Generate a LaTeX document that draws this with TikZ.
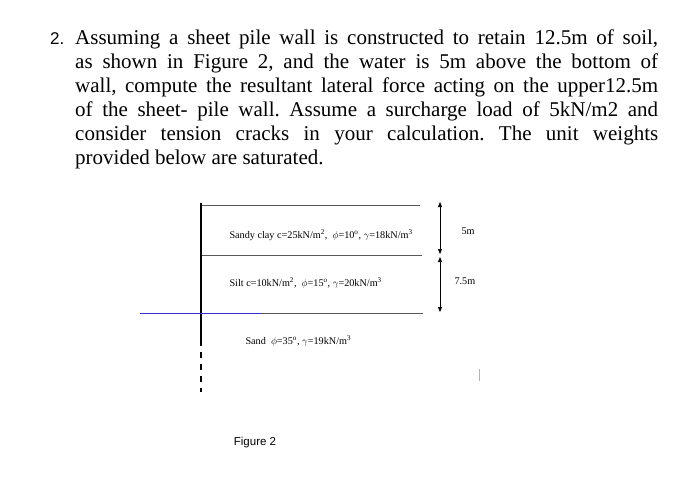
\documentclass[tikz,border=0pt]{standalone}
\usepackage{fontspec}
\setmainfont{Liberation Serif}
\newfontfamily\labelsans{Liberation Sans}
\usetikzlibrary{arrows.meta}
\tikzset{
  layer/.style={gray!70!black, line width=0.8pt},
  soiltext/.style={font=\fontsize{10.2}{11}\selectfont, anchor=west},
  dimarrow/.style={{Triangle[length=5pt, width=4pt]}-{Triangle[length=5pt, width=4pt]}, line width=0.7pt}
}
\begin{document}
\begin{tikzpicture}[x=1pt, y=-1pt]
    \useasboundingbox (0,0) rectangle (700,491);
    % Question text
    \node[anchor=north west, inner sep=0pt, text width=608pt, align=justify,
          font=\fontsize{21}{24}\selectfont] (question) at (50,30)
      {\frenchspacing\hangindent=25pt\hangafter=1 \makebox[25pt][l]{\labelsans\fontsize{17}{24}\selectfont 2.}Assuming a sheet pile wall is constructed to retain 12.5m of soil,\linebreak
       as shown in Figure 2, and the water is 5m above the bottom of\linebreak
       wall, compute the resultant lateral force acting on the upper12.5m\linebreak
       of the sheet- pile wall. Assume a surcharge load of 5kN/m2 and\linebreak
       consider tension cracks in your calculation. The unit weights\linebreak
       provided below are saturated.\par};

    % Wall
    \coordinate (walltop) at (201,203);
    \coordinate (wallmid) at (201,340);
    \coordinate (wallbot) at (201,392);
    \draw[line width=1.4pt] (walltop) -- (wallmid);
    \draw[line width=1.4pt, dash pattern=on 6pt off 6pt] (wallmid) -- (wallbot);

    % Layer boundaries
    \draw[layer] (202,205) -- (420,205);
    \draw[layer] (202,255) -- (422,255);
    \draw[layer] (202,313) -- (423,313);
    \draw[blue!60!gray, line width=0.8pt] (140,313) -- (262,313);

    % Soil labels
    \node[soiltext] (clay) at (226,235) {Sandy clay c=25kN/m\textsuperscript{2},\ \ $\phi$=10\textsuperscript{o}, $\gamma$=18kN/m\textsuperscript{3}};
    \node[soiltext] (silt) at (226,283) {Silt c=10kN/m\textsuperscript{2},\ \ $\phi$=15\textsuperscript{o}, $\gamma$=20kN/m\textsuperscript{3}};
    \node[soiltext] (sand) at (242,341) {Sand\ \ $\phi$=35\textsuperscript{o}, $\gamma$=19kN/m\textsuperscript{3}};

    % Dimensions
    \coordinate (d0) at (440,202);
    \coordinate (d1) at (440,254);
    \coordinate (d2) at (440,257);
    \coordinate (d3) at (440,312);
    \draw[dimarrow] (d0) -- (d1);
    \draw[dimarrow] (d2) -- (d3);
    \node[soiltext] (five) at (458,231) {5m};
    \node[soiltext] (seven) at (451,281) {7.5m};

    \draw[gray!60, line width=0.6pt] (479,369) -- (479,381);

    \node[font=\labelsans\fontsize{11.5}{12}\selectfont] (caption) at (255,443) {Figure 2};
\end{tikzpicture}
\end{document}
